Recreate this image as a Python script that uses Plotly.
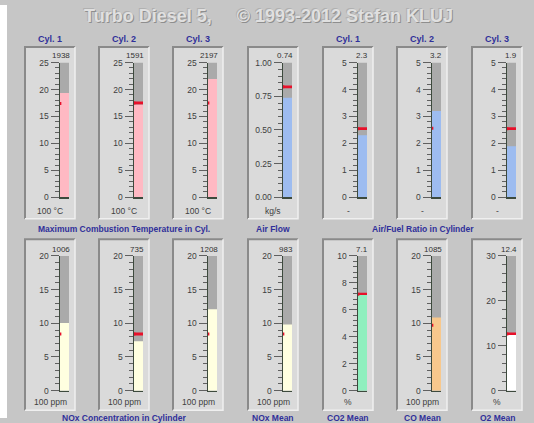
import plotly.graph_objects as go

# ---------------- data ----------------
header_labels = ["Cyl. 1", "Cyl. 2", "Cyl. 3", "", "Cyl. 1", "Cyl. 2", "Cyl. 3",
                 "", "", "", "", "", "", ""]
readouts = ["1938", "1591", "2197", "0.74", "2.3", "3.2", "1.9",
            "1006", "735", "1208", "983", "7.1", "1085", "12.4"]
fill_levels = [19.38, 17.2, 21.97, 0.74, 2.3, 3.2, 1.9,
               10.06, 7.35, 12.08, 9.83, 7.1, 10.85, 12.4]
setpoints = [17.4, 17.5, 17.5, 0.82, 2.55, 2.56, 2.55,
             8.4, 8.4, 8.4, 8.4, 7.15, 9.7, 12.6]
scale_max = [25, 25, 25, 1.0, 5, 5, 5, 20, 20, 20, 20, 10, 20, 30]
major_step = [5, 5, 5, 0.25, 1, 1, 1, 5, 5, 5, 5, 2, 5, 10]
minor_step = [1, 1, 1, 0.05, 0.2, 0.2, 0.2, 1, 1, 1, 1, 0.4, 1, 2]
tick_formats = ["", "", "", ".2f", "", "", "", "", "", "", "", "", "", ""]
units = ["100 °C", "100 °C", "100 °C", "kg/s", "-", "-", "-",
         "100 ppm", "100 ppm", "100 ppm", "100 ppm", "%", "100 ppm", "%"]
group_titles = ["Maximum Combustion Temperature in Cyl.", "Air Flow",
                "Air/Fuel Ratio in Cylinder", "NOx Concentration in Cylinder",
                "NOx Mean", "CO2 Mean", "CO Mean", "O2 Mean"]
group_members = [[0, 1, 2], [3], [4, 5, 6], [7, 8, 9], [10], [11], [12], [13]]
title_text = "Turbo Diesel 5,\u00a0\u00a0\u00a0\u00a0\u00a0© 1993-2012 Stefan KLUJ"

# ---------------- styles ----------------
PINK, BLUE, CREAM, MINT, ORANGE, WHITE = "#ffb9c3", "#9dbcf0", "#ffffe0", "#8fefbe", "#f8c88c", "#ffffff"
fill_colors = [PINK, PINK, PINK, BLUE, BLUE, BLUE, BLUE,
               CREAM, CREAM, CREAM, CREAM, MINT, ORANGE, WHITE]
BG = "#c6c6c6"
PANEL = "#dadada"
TUBE = "#aaaaaa"
RED = "#e8102a"
AXIS = "#3d4a3d"
TICK = "#606060"
LABEL = "#404040"
NAVY = "#30309a"
FONT = "Arial, Liberation Sans, sans-serif"

W, H = 534, 423
def px(x):
    return x / W
def py(y):
    return 1 - y / H

panel_lefts = [25, 99, 173, 248, 323, 397, 472]
panel_w = 50
row_panel = [(43, 219), (240, 415)]
row_tube = [(59, 197), (257, 395)]
row_unit = [211, 407]
row_group = [229, 423]
header_y = 35
title_y = 11
tube_off0, tube_off1 = 35, 44

fig = go.Figure()
shapes = []
annotations = []
layout = {}

# white strip on the left edge
shapes.append(dict(type="rect", xref="paper", yref="paper", x0=0, x1=px(7), y0=0, y1=1,
                   fillcolor="#ffffff", line=dict(width=0), layer="below"))

for i in range(14):
    r, c = divmod(i, 7)
    pl = panel_lefts[c]
    p0, p1 = row_panel[r]
    t0, t1 = row_tube[r]
    # panel
    shapes.append(dict(type="rect", xref="paper", yref="paper", x0=px(pl), x1=px(pl + panel_w),
                       y0=py(p1), y1=py(p0), fillcolor=PANEL, line=dict(width=0), layer="below"))
    shapes.append(dict(type="path", xref="paper", yref="paper", layer="below",
                       path=f"M {px(pl)} {py(p1)} L {px(pl)} {py(p0)} L {px(pl + panel_w)} {py(p0)}",
                       line=dict(color="#8a8a8a", width=2)))
    shapes.append(dict(type="path", xref="paper", yref="paper", layer="below",
                       path=f"M {px(pl + panel_w)} {py(p0)} L {px(pl + panel_w)} {py(p1)} L {px(pl)} {py(p1)}",
                       line=dict(color="#efefef", width=1.5)))

    n = "" if i == 0 else str(i + 1)
    xa, ya = "x" + n, "y" + n
    common = dict(xaxis=xa, yaxis=ya, hoverinfo="skip", showlegend=False)
    mx = scale_max[i]
    d = mx * 0.011
    # empty tube
    fig.add_trace(go.Bar(x=[0.5], y=[mx], width=1, marker=dict(color=TUBE, line=dict(width=0)), **common))
    # set-point mark inside the tube (hidden by the fill when the fill is higher)
    fig.add_trace(go.Bar(x=[0.5], y=[2 * d], base=[setpoints[i] - d], width=1,
                         marker=dict(color=RED, line=dict(width=0)), **common))
    # fill level
    fig.add_trace(go.Bar(x=[0.5], y=[fill_levels[i]], width=1,
                         marker=dict(color=fill_colors[i], line=dict(width=0)), **common))
    # set-point stub left of the axis
    fig.add_trace(go.Scatter(x=[0.15], y=[setpoints[i]], mode="markers", cliponaxis=False,
                             marker=dict(size=1, color="rgba(0,0,0,0)"),
                             error_x=dict(type="data", symmetric=False, array=[0], arrayminus=[0.75],
                                          thickness=3, width=0, color=RED),
                             **common))

    layout["xaxis" + n] = dict(domain=[px(pl + tube_off0), px(pl + tube_off1)], range=[0, 1],
                               anchor=ya, showline=True, linecolor=AXIS, linewidth=1.2,
                               showticklabels=False, ticks="", showgrid=False, zeroline=False,
                               fixedrange=True)
    layout["yaxis" + n] = dict(domain=[py(t1), py(t0)], range=[0, mx], anchor=xa,
                               showline=True, linecolor=AXIS, linewidth=1.5,
                               tickmode="linear", tick0=0, dtick=major_step[i],
                               tickformat=tick_formats[i],
                               ticks="outside", ticklen=8, tickwidth=1, tickcolor=TICK,
                               tickfont=dict(family=FONT, size=8.5, color=LABEL),
                               minor=dict(dtick=minor_step[i], ticks="outside", ticklen=4,
                                          tickwidth=1, tickcolor=TICK, showgrid=False),
                               showgrid=False, zeroline=False, fixedrange=True)

    # readout value above the tube
    annotations.append(dict(xref="paper", yref="paper", x=px(pl + tube_off1 + 3), y=py(t0 - 7),
                            xanchor="right", yanchor="middle", text=readouts[i], showarrow=False,
                            font=dict(family=FONT, size=8, color="#333333")))
    # unit label
    annotations.append(dict(xref="paper", yref="paper", x=px(pl + panel_w / 2), y=py(row_unit[r]),
                            xanchor="center", yanchor="middle", text=units[i], showarrow=False,
                            font=dict(family=FONT, size=8.5, color=LABEL)))
    # header
    if header_labels[i]:
        annotations.append(dict(xref="paper", yref="paper", x=px(pl + panel_w / 2), y=py(header_y),
                                xanchor="center", yanchor="middle", text="<b>" + header_labels[i] + "</b>",
                                showarrow=False, font=dict(family=FONT, size=9, color=NAVY)))

for g, members in enumerate(group_members):
    r = members[0] // 7
    left = panel_lefts[members[0] % 7]
    right = panel_lefts[members[-1] % 7] + panel_w
    annotations.append(dict(xref="paper", yref="paper", x=px((left + right) / 2), y=py(row_group[r]),
                            xanchor="center", yanchor="middle", text="<b>" + group_titles[g] + "</b>",
                            showarrow=False, font=dict(family=FONT, size=8.5, color=NAVY)))

# embossed title (single text with CSS shadows)
annotations.append(dict(xref="paper", yref="paper", x=px(268), y=py(title_y), xanchor="center",
                        yanchor="middle", text="<b>" + title_text + "</b>", showarrow=False,
                        font=dict(family=FONT, size=18, color="#e0e0e0",
                                  shadow="1px 1px 0px #8e8e8e, -1px -1px 0px #b0b0b0")))

fig.update_layout(width=W, height=H, margin=dict(l=0, r=0, t=0, b=0, pad=0),
                  paper_bgcolor=BG, plot_bgcolor="rgba(0,0,0,0)", barmode="overlay",
                  showlegend=False, shapes=shapes, annotations=annotations, **layout)

fig.write_html("out.html", config={"displayModeBar": False, "staticPlot": True},
               post_script="document.body.style.margin='0';document.body.style.overflow='hidden';")
